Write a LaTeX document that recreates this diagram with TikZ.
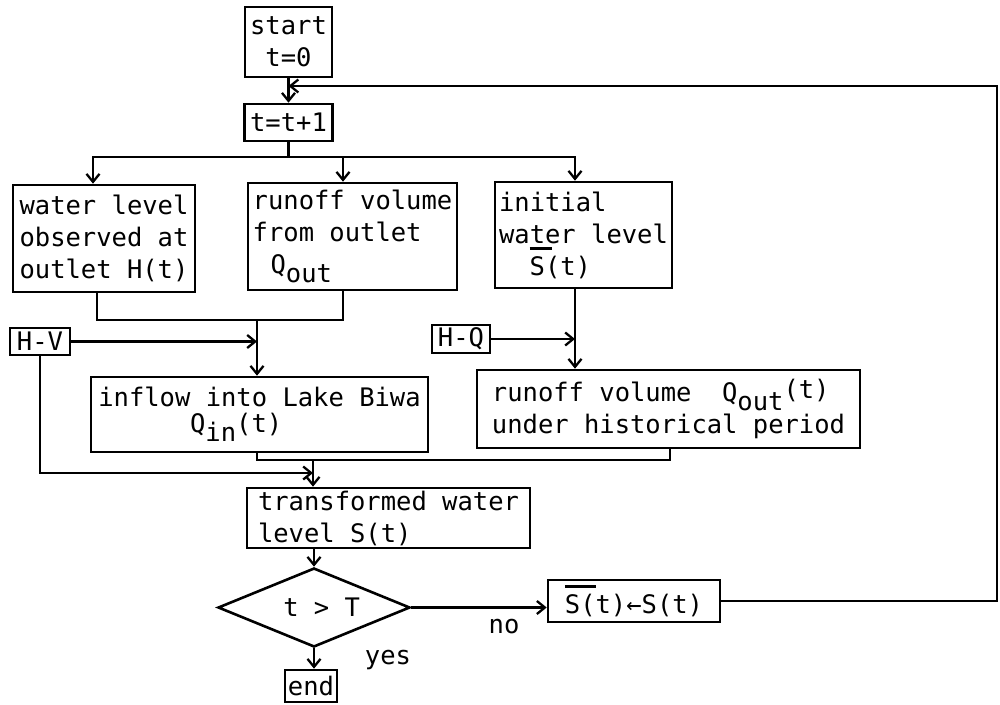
\documentclass[tikz,border=0pt]{standalone}
\usepackage{fontspec}
\usetikzlibrary{arrows.meta,shapes.geometric,calc}
\newfontfamily\tw{DejaVu Sans Mono}
\newcommand\sbs[1]{\raisebox{-0.35em}{#1}}
\newcommand\ovl[2]{\makebox[0pt][l]{\raisebox{1.0em}{\rule{#1}{2.2pt}}}#2}
\begin{document}
\begin{tikzpicture}[x=1pt,y=-1pt,
  box/.style={draw,line width=2.6pt,inner sep=2pt,font=\tw\fontsize{25.5}{32}\selectfont,align=left},
  lbl/.style={inner sep=0pt,font=\tw\fontsize{25.5}{32}\selectfont},
  arr/.style={line width=2.3pt,-{Straight Barb[length=8pt,width=13pt,line width=2.3pt]}},
  ln/.style={line width=2.3pt}]
\useasboundingbox (0,0) rectangle (1000,704);
\node[box,align=center,minimum width=87,minimum height=70] (start) at (288.5,42) {start\\t=0};
\node[box,minimum width=88,minimum height=37] (t1) at (288.5,122.5) {t=t+1};
\node[box,minimum width=182,minimum height=107] (b1) at (104,238.5) {water level\\observed at\\outlet H(t)};
\node[box,minimum width=209,minimum height=107] (b2) at (352.5,236.5) {runoff volume\\from outlet\\\hspace*{0.7em}Q\sbs{out}};
\node[box,minimum width=177,minimum height=106] (b3) at (583.5,235) {initial\\water level\\\hspace*{1.2em}\ovl{0.86em}{S}(t)};
\node[box,minimum width=60,minimum height=27,inner sep=0pt] (hv) at (40,341.5) {H-V};
\node[box,minimum width=58,minimum height=28,inner sep=0pt] (hq) at (461,339) {H-Q};
\node[box,minimum width=337,minimum height=75] (inflow) at (259.5,414.5) {inflow into Lake Biwa\\[-6pt]\hspace*{3.6em}Q\sbs{in}(t)};
\node[box,minimum width=383,minimum height=78] (ro2) at (668.5,409) {runoff volume\hspace*{1.2em}Q\sbs{out}\raisebox{0.15em}{(t)}\\under historical period};
\node[box,minimum width=283,minimum height=60] (trans) at (388.5,518) {transformed water\\level S(t)};
\node[draw,line width=2.6pt,diamond,aspect=2.43,inner sep=0pt,minimum width=192,minimum height=79,font=\tw\fontsize{25.5}{32}\selectfont] (dia) at (314,607.5) {\hspace*{0.6em}t > T};
\node[box,minimum width=52,minimum height=32,inner sep=0pt] (endb) at (311,686) {end};
\node[box,minimum width=172,minimum height=42,inner sep=0pt] (sb) at (634,601) {\ovl{1.2em}{S}(t)←S(t)};
\node[lbl] (no) at (504,627) {no};
\node[lbl] (yes) at (388,660) {yes};
% coordinates
\coordinate (j0) at (288.5,157);
\coordinate (lp) at (288.5,86);
\coordinate (rr) at (997,86);
\coordinate (j1) at (257,320);
\coordinate (m2) at (313,460);
\coordinate (hvj) at (313,473);
\coordinate (cR) at ([xshift=-8.5pt]b3.south);
% connectors
\draw[arr] (start) -- (t1);
\draw[ln] (t1.south) -- (j0);
\draw[arr] (j0) -| ([xshift=-11pt]b1.north);
\draw[arr] (j0) -| ([xshift=-9.5pt]b2.north);
\draw[arr] (j0) -| ([xshift=-8.5pt]b3.north);
\draw[ln] ([xshift=-7pt]b1.south) |- (j1);
\draw[ln] ([xshift=-9.5pt]b2.south) |- (j1);
\draw[arr] (j1) -- (j1 |- inflow.north);
\draw[arr] (hv.east) -- (hv.east -| j1);
\draw[arr] (cR) -- (cR |- ro2.north);
\draw[arr] (hq.east) -- (hq.east -| cR);
\draw[ln] ([xshift=-2.5pt]inflow.south) |- (m2);
\draw[ln] ([xshift=1.5pt]ro2.south) |- (m2);
\draw[arr] (m2) -- (m2 |- trans.north);
\draw[arr] (hv.south) |- (hvj);
\draw[arr] (trans.south -| dia.north) -- (dia.north);
\draw[arr] (dia.south) -- (dia.south |- endb.north);
\draw[arr] (dia.east) -- (dia.east -| sb.west);
\draw[arr] (sb.east) -| (rr) -- (lp);
\end{tikzpicture}
\end{document}
